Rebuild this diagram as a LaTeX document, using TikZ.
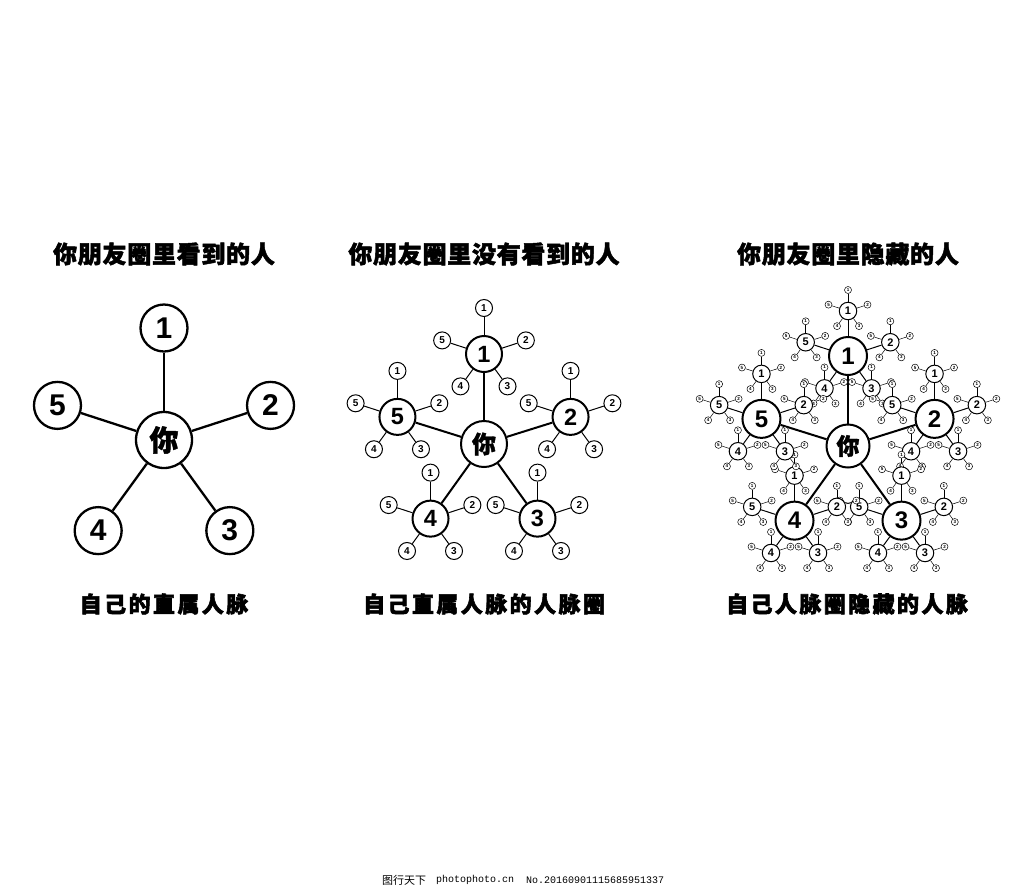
\documentclass[tikz,border=0pt]{standalone}
\usepackage{fontspec}
\setmainfont{Liberation Sans}
\newfontfamily\cjk{Noto Sans CJK SC}
\newfontfamily\monof{Liberation Mono}
\usetikzlibrary{backgrounds}
\begin{document}
\begin{tikzpicture}[x=1pt,y=-1pt,
  ttl/.style={inner sep=0pt,font=\cjk\bfseries\fontsize{24}{24}\selectfont\addfontfeature{LetterSpace=3,FakeBold=2}},
  btm/.style={inner sep=0pt,font=\cjk\bfseries\fontsize{22}{22}\selectfont\addfontfeature{LetterSpace=11,FakeBold=2.5}},
  circ/.style={circle,draw,fill=white,inner sep=0pt},
  youA/.style={circ,line width=2.3pt,minimum size=56pt,font=\cjk\bfseries\fontsize{29}{29}\selectfont\addfontfeature{FakeBold=1.5}},
  kidA/.style={circ,line width=2.3pt,minimum size=47pt,font=\bfseries\fontsize{30}{30}\selectfont},
  youB/.style={circ,line width=2pt,minimum size=46pt,font=\cjk\bfseries\fontsize{24}{24}\selectfont\addfontfeature{FakeBold=1.5}},
  kidB/.style={circ,line width=2pt,minimum size=36pt,font=\bfseries\fontsize{23.5}{24}\selectfont},
  grandB/.style={circ,line width=1pt,minimum size=17pt,font=\bfseries\fontsize{10}{10}\selectfont},
  youC/.style={circ,line width=2pt,minimum size=43pt,font=\cjk\bfseries\fontsize{23}{23}\selectfont\addfontfeature{FakeBold=1.5}},
  kidC/.style={circ,line width=2pt,minimum size=38pt,font=\bfseries\fontsize{24}{24}\selectfont},
  subC/.style={circ,line width=1pt,minimum size=17.5pt,font=\bfseries\fontsize{11}{11}\selectfont},
  tinyC/.style={circ,line width=0.5pt,minimum size=7pt,font=\bfseries\fontsize{4.5}{4.5}\selectfont},
  edgeA/.style={line width=2.3pt},
  edgeB/.style={line width=2pt},
  edgeG/.style={line width=1pt},
  edgeT/.style={line width=0.5pt},
  wmk/.style={inner sep=0pt,anchor=west}
]
\useasboundingbox (0,0) rectangle (1024,889);

% titles
\node[ttl] (t1) at (164,254) {你朋友圈里看到的人};
\node[ttl] (t2) at (484,254) {你朋友圈里没有看到的人};
\node[ttl] (t3) at (848,254) {你朋友圈里隐藏的人};
\node[btm] (b1) at (164,604) {自己的直属人脉};
\node[btm] (b2) at (484,604) {自己直属人脉的人脉圈};
\node[btm] (b3) at (847,604) {自己人脉圈隐藏的人脉};

% diagram 1
\node[youA] (A) at (164,440) {你};
\foreach \i in {1,...,5} {
  \node[kidA] (A\i) at ({164+112*cos(90-72*(\i-1))},{440-112*sin(90-72*(\i-1))}) {\i};
  \draw[edgeA] (A) -- (A\i);
}

% diagram 2
\node[youB] (B) at (484,444) {你};
\foreach \i in {1,...,5} {
  \pgfmathsetmacro\ax{484+91*cos(90-72*(\i-1))}
  \pgfmathsetmacro\ay{445-91*sin(90-72*(\i-1))}
  \node[kidB] (B\i) at (\ax,\ay) {\i};
  \draw[edgeB] (B) -- (B\i);
  \foreach \j/\f in {1/46,2/44,3/40,4/40,5/44} {
    \node[grandB] (B\i-\j) at ({\ax+\f*cos(90-72*(\j-1))},{\ay-\f*sin(90-72*(\j-1))}) {\j};
    \draw[edgeG] (B\i) -- (B\i-\j);
  }
}

% diagram 3
\node[youC] (C) at (848,446) {你};
\foreach \i in {1,...,5} {
  \pgfmathsetmacro\ax{848+91*cos(90-72*(\i-1))}
  \pgfmathsetmacro\ay{447-91*sin(90-72*(\i-1))}
  \node[kidC] (C\i) at (\ax,\ay) {\i};
  \begin{pgfonlayer}{background}\draw[edgeB] (C) -- (C\i);\end{pgfonlayer}
  \foreach \j/\f in {1/45,2/44.5,3/40,4/40,5/44.5} {
    \pgfmathsetmacro\bx{\ax+\f*cos(90-72*(\j-1))}
    \pgfmathsetmacro\by{\ay-\f*sin(90-72*(\j-1))}
    \node[subC] (C\i-\j) at (\bx,\by) {\j};
    \begin{pgfonlayer}{background}\draw[edgeG] (C\i) -- (C\i-\j);\end{pgfonlayer}
    \foreach \k/\g in {1/21,2/20.5,3/18.7,4/18.7,5/20.5} {
      \node[tinyC] (C\i-\j-\k) at ({\bx+\g*cos(90-72*(\k-1))},{\by-\g*sin(90-72*(\k-1))}) {\k};
      \begin{pgfonlayer}{background}\draw[edgeT] (C\i-\j) -- (C\i-\j-\k);\end{pgfonlayer}
    }
  }
}

% watermark
\node[wmk,font=\cjk\fontsize{11}{11}\selectfont] (w1) at (382,880) {图行天下};
\node[wmk,font=\monof\fontsize{10}{10}\selectfont] (w2) at (436,880) {photophoto.cn};
\node[wmk,font=\monof\fontsize{10}{10}\selectfont] (w3) at (526,880) {No.20160901115685951337};
\end{tikzpicture}
\end{document}
